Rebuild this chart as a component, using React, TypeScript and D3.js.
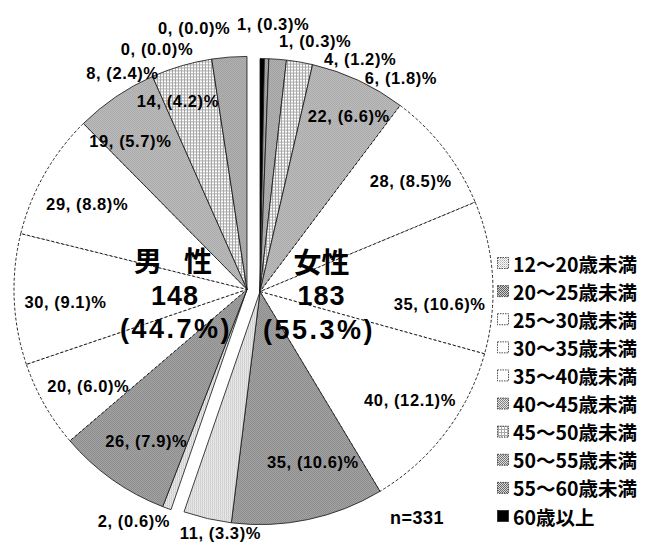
import React from "react";
import * as d3 from "d3";

// Age groups, in legend order
const categories = [
  "12～20歳未満",
  "20～25歳未満",
  "25～30歳未満",
  "30～35歳未満",
  "35～40歳未満",
  "40～45歳未満",
  "45～50歳未満",
  "50～55歳未満",
  "55～60歳未満",
  "60歳以上",
];

// Respondent counts per age group
const femaleCounts = [11, 35, 40, 35, 28, 22, 6, 4, 1, 1];
const maleCounts = [2, 26, 20, 30, 29, 19, 14, 8, 0, 0];

const femaleTitle = "女性";
const maleTitle = ["男", "性"];
const sampleNote = "n=331";

// Label placement per slice: [angle in degrees clockwise from 12 o'clock, distance from the half's apex]
const femaleLabelPolar: [number, number][] = [
  [189.3, 245], [162.7, 178], [125.8, 185], [93.8, 180], [53.7, 187],
  [26.8, 197], [33.4, 256], [23.3, 253], [12.4, 257], [2.8, 268],
];
const maleLabelPolar: [number, number][] = [
  [206, 258], [213.6, 182], [238.6, 186], [265.9, 182], [298, 181],
  [321.9, 189], [339.9, 201], [330.1, 250], [339.5, 257], [348.6, 267],
];

// Fill per age group (patterns defined in <defs>)
const fills = [
  "url(#p-dots)",
  "url(#p-dark)",
  "#ffffff",
  "#ffffff",
  "#ffffff",
  "url(#p-mid)",
  "url(#p-grid)",
  "url(#p-mid2)",
  "url(#p-mid3)",
  "#000000",
];
const whiteGroups = new Set([2, 3, 4]);

const JP_FONT = "'Noto Sans CJK JP', 'Noto Sans', sans-serif";
const NUM_FONT = "'Liberation Sans', Arial, sans-serif";

export default function App() {
  const width = 645;
  const height = 545;
  const cx = 253.5;
  const cy = 290.5;
  const radius = 233;
  const explode = 6.6;

  const total = d3.sum(femaleCounts) + d3.sum(maleCounts);
  const pct = (v: number) => ((v / total) * 100).toFixed(1);

  type Slice = { group: "f" | "m"; cat: number; value: number };
  // Clockwise from the top: women from oldest to youngest, then men from youngest to oldest
  const slices: Slice[] = [
    ...femaleCounts.map((v, i) => ({ group: "f" as const, cat: i, value: v })).reverse(),
    ...maleCounts.map((v, i) => ({ group: "m" as const, cat: i, value: v })),
  ];

  const pie = d3
    .pie<Slice>()
    .sort(null)
    .value((d) => d.value)
    .startAngle(0)
    .endAngle(2 * Math.PI);
  const arcs = pie(slices);

  const arc = d3.arc<d3.PieArcDatum<Slice>>().innerRadius(0).outerRadius(radius);

  const femaleEnd = (2 * Math.PI * d3.sum(femaleCounts)) / total;
  const femaleMid = femaleEnd / 2;
  const maleMid = (femaleEnd + 2 * Math.PI) / 2;
  const offsetOf = (g: "f" | "m") => {
    const a = g === "f" ? femaleMid : maleMid;
    return [cx + explode * Math.sin(a), cy - explode * Math.cos(a)];
  };
  const [fx, fy] = offsetOf("f");
  const [mx, my] = offsetOf("m");

  const polar = (ox: number, oy: number, deg: number, r: number) => {
    const a = (deg * Math.PI) / 180;
    return [ox + r * Math.sin(a), oy - r * Math.cos(a)];
  };

  const legendY = d3.scaleLinear().domain([0, 9]).range([263, 516]);

  const labelStyle = { fontFamily: NUM_FONT, fontWeight: 700, fontSize: 16.5, letterSpacing: 0.6 } as const;

  return (
    <svg width={width} height={height} style={{ position: "absolute", left: 0, top: 0, background: "#fff" }}>
      <defs>
        <pattern id="p-dots" width="2" height="2" patternUnits="userSpaceOnUse" shapeRendering="crispEdges">
          <rect width="2" height="2" fill="#fafafa" />
          <rect x="0" y="0" width="1" height="1" fill="#acacac" />
          <rect x="1" y="1" width="1" height="1" fill="#d0d0d0" />
        </pattern>
        <pattern id="p-dark" width="2" height="2" patternUnits="userSpaceOnUse" shapeRendering="crispEdges">
          <rect width="2" height="2" fill="#d0d0d0" />
          <rect x="0" y="0" width="1" height="1" fill="#606060" />
          <rect x="1" y="1" width="1" height="1" fill="#606060" />
        </pattern>
        <pattern id="p-mid" width="2" height="2" patternUnits="userSpaceOnUse" shapeRendering="crispEdges">
          <rect width="2" height="2" fill="#e6e6e6" />
          <rect x="0" y="0" width="1" height="1" fill="#808080" />
          <rect x="1" y="1" width="1" height="1" fill="#808080" />
        </pattern>
        <pattern id="p-grid" width="3" height="3" patternUnits="userSpaceOnUse" shapeRendering="crispEdges">
          <rect width="3" height="3" fill="#ffffff" />
          <rect x="0" y="0" width="3" height="1" fill="#a8a8a8" />
          <rect x="0" y="0" width="1" height="3" fill="#a8a8a8" />
        </pattern>
        <pattern id="p-mid2" width="2" height="2" patternUnits="userSpaceOnUse" shapeRendering="crispEdges">
          <rect width="2" height="2" fill="#dedede" />
          <rect x="0" y="0" width="1" height="1" fill="#747474" />
          <rect x="1" y="1" width="1" height="1" fill="#747474" />
        </pattern>
        <pattern id="p-mid3" width="2" height="2" patternUnits="userSpaceOnUse" shapeRendering="crispEdges">
          <rect width="2" height="2" fill="#d6d6d6" />
          <rect x="0" y="0" width="1" height="1" fill="#6c6c6c" />
          <rect x="1" y="1" width="1" height="1" fill="#6c6c6c" />
        </pattern>
      </defs>

      {/* slices */}
      {arcs.map((a, i) => {
        if (a.data.value === 0) return null;
        const [ox, oy] = a.data.group === "f" ? [fx, fy] : [mx, my];
        const white = whiteGroups.has(a.data.cat);
        return (
          <path
            key={i}
            d={arc(a) || ""}
            transform={`translate(${ox},${oy})`}
            fill={fills[a.data.cat]}
            stroke="#111"
            strokeWidth={white ? 0.9 : 0.8}
            strokeDasharray={white ? "3 2" : undefined}
          />
        );
      })}

      {/* slice labels */}
      {femaleCounts.map((v, i) => {
        const [x, y] = polar(fx, fy, femaleLabelPolar[i][0], femaleLabelPolar[i][1]);
        return (
          <text key={`f${i}`} x={x} y={y} textAnchor="middle" dominantBaseline="central" {...labelStyle}>
            {`${v}, (${pct(v)})%`}
          </text>
        );
      })}
      {maleCounts.map((v, i) => {
        const [x, y] = polar(mx, my, maleLabelPolar[i][0], maleLabelPolar[i][1]);
        return (
          <text key={`m${i}`} x={x} y={y} textAnchor="middle" dominantBaseline="central" {...labelStyle}>
            {`${v}, (${pct(v)})%`}
          </text>
        );
      })}

      {/* group totals */}
      <g fontWeight={700} textAnchor="middle" dominantBaseline="central">
        <text x={148} y={260} fontFamily={JP_FONT} fontSize={28}>{maleTitle[0]}</text>
        <text x={198} y={260} fontFamily={JP_FONT} fontSize={28}>{maleTitle[1]}</text>
        <text x={175} y={296} fontFamily={NUM_FONT} fontSize={27} letterSpacing={1}>{d3.sum(maleCounts)}</text>
        <text x={176} y={329} fontFamily={NUM_FONT} fontSize={27} letterSpacing={2.5}>{`(${pct(d3.sum(maleCounts))}%)`}</text>
        <text x={321.5} y={261} fontFamily={JP_FONT} fontSize={28}>{femaleTitle}</text>
        <text x={321.5} y={296} fontFamily={NUM_FONT} fontSize={27} letterSpacing={1}>{d3.sum(femaleCounts)}</text>
        <text x={319} y={330} fontFamily={NUM_FONT} fontSize={27} letterSpacing={2.5}>{`(${pct(d3.sum(femaleCounts))}%)`}</text>
      </g>

      <text x={417} y={518} textAnchor="middle" dominantBaseline="central" fontFamily={NUM_FONT} fontWeight={700} fontSize={18} letterSpacing={0.5}>
        {sampleNote}
      </text>

      {/* legend */}
      {categories.map((c, i) => {
        const y = legendY(i);
        return (
          <g key={c}>
            <rect
              x={497.5}
              y={y - 5.5}
              width={11}
              height={11}
              fill={fills[i]}
              stroke="#222"
              strokeWidth={0.8}
              strokeDasharray={i === 9 ? undefined : "1.5 1"}
            />
            <text x={513} y={y} dominantBaseline="central" fontFamily={JP_FONT} fontWeight={700} fontSize={19.5}>
              {c}
            </text>
          </g>
        );
      })}
    </svg>
  );
}
